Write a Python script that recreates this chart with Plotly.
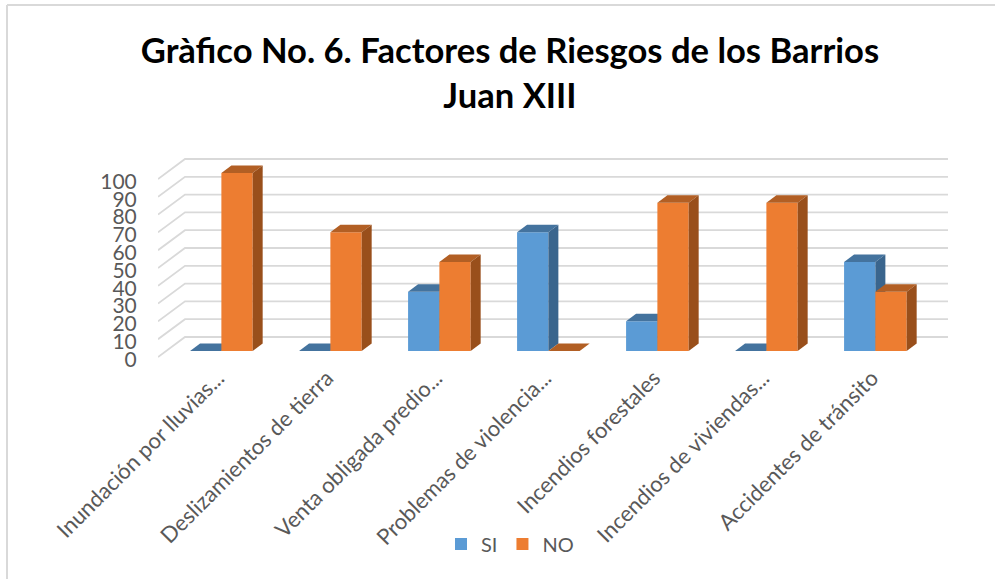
import plotly.graph_objects as go

categories = ["Inundación por lluvias...", "Deslizamientos de tierra", "Venta obligada predio...",
              "Problemas de violencia...", "Incendios forestales", "Incendios de viviendas...",
              "Accidentes de tránsito"]
si_values = [0, 0, 33.3, 66.7, 16.7, 0, 50]
no_values = [100, 66.7, 50, 0, 83.3, 83.3, 33.3]
y_ticks = [0, 10, 20, 30, 40, 50, 60, 70, 80, 90, 100]
title_text = "Gràfico No. 6. Factores de Riesgos de los Barrios<br>Juan XIII"

W, H = 995, 579
PLOT_L, PLOT_R = 158, 921
PLOT_T, PLOT_B = 179, 357
ROOM_R, ROOM_T, ROOM_B = 40, 40, 3   # spare plot room so depth faces and the 0 label stay in
FONT = "Lato"
TEXT = "#595959"
GRID = "#d9d9d9"
N = len(categories)
PX_X = (PLOT_R - PLOT_L) / N
PX_Y = (PLOT_B - PLOT_T) / 100
XR = [-0.5, N - 0.5 + ROOM_R / PX_X]
YR = [-ROOM_B / PX_Y, 100 + ROOM_T / PX_Y]
DX = 27 / PX_X
DY = 20 / PX_Y
BAR_W = 31.3 / PX_X
BAR_START = 0.22 - 0.5
D0, D1 = 0.3, 0.67


def proj(x, v, d):
    return x + d * DX, v + d * DY


fig = go.Figure()

# walls: left wall diagonals + back wall lines
gx, gy = [], []
for t in y_ticks:
    a = proj(-0.5, t, 0)
    b = proj(-0.5, t, 1)
    c = proj(N - 0.5, t, 1)
    gx += [a[0], b[0], c[0], None]
    gy += [a[1], b[1], c[1], None]
fig.add_trace(go.Scatter(x=gx, y=gy, mode="lines", line=dict(color=GRID, width=1.8),
                         hoverinfo="skip", showlegend=False, cliponaxis=False))


def add_series(name, vals, slot, front, top, side, ax):
    fig.add_trace(go.Bar(x=list(range(N)), y=vals, base=[D0 * DY] * N, width=[BAR_W] * N,
                         offset=[BAR_START + slot * BAR_W + D0 * DX] * N,
                         name=name, marker=dict(color=front, line=dict(width=0)),
                         cliponaxis=False, xaxis="x" + ax, yaxis="y" + ax))
    for i, v in enumerate(vals):
        x0 = i + BAR_START + slot * BAR_W
        x1 = x0 + BAR_W
        p = [proj(x0, v, D0), proj(x1, v, D0), proj(x1, v, D1), proj(x0, v, D1)]
        fig.add_trace(go.Scatter(x=[q[0] for q in p] + [p[0][0]], y=[q[1] for q in p] + [p[0][1]],
                                 mode="lines", fill="toself", fillcolor=top, line=dict(width=0, color=top),
                                 hoverinfo="skip", showlegend=False, cliponaxis=False,
                                 xaxis="x" + ax, yaxis="y" + ax))
        if v > 0:
            p = [proj(x1, 0, D0), proj(x1, v, D0), proj(x1, v, D1), proj(x1, 0, D1)]
            fig.add_trace(go.Scatter(x=[q[0] for q in p] + [p[0][0]], y=[q[1] for q in p] + [p[0][1]],
                                     mode="lines", fill="toself", fillcolor=side, line=dict(width=0, color=side),
                                     hoverinfo="skip", showlegend=False, cliponaxis=False,
                                     xaxis="x" + ax, yaxis="y" + ax))


add_series("SI", si_values, 0, "#5b9bd5", "#44739e", "#3a658d", "2")
add_series("NO", no_values, 1, "#ed7d31", "#b25f24", "#994f1b", "3")

dom_x = [PLOT_L / W, (PLOT_R + ROOM_R) / W]
dom_y = [1 - (PLOT_B + ROOM_B) / H, 1 - (PLOT_T - ROOM_T) / H]
hidden = dict(range=XR, domain=dom_x, visible=False, overlaying="x", fixedrange=True)
hiddeny = dict(range=YR, domain=dom_y, visible=False, overlaying="y", fixedrange=True)

fig.update_layout(
    width=W, height=H, margin=dict(l=0, r=0, t=0, b=0), autosize=False,
    paper_bgcolor="white", plot_bgcolor="rgba(0,0,0,0)",
    font=dict(family=FONT, color=TEXT),
    title=dict(text="<b>" + title_text.replace("<br>", "</b><br><b>") + "</b>",
               x=510 / W, xanchor="center", y=1 - 63 / H, yanchor="middle",
               font=dict(family=FONT, size=34.6, color="#000000")),
    xaxis=dict(range=XR, domain=dom_x, tickmode="array", tickvals=[i + 0.05 for i in range(N)],
               ticktext=categories, tickangle=-45, tickfont=dict(size=22, color=TEXT),
               ticks="", showgrid=False,
               showline=False, zeroline=False, fixedrange=True, automargin=False),
    yaxis=dict(range=YR, domain=dom_y, tickmode="array", tickvals=[t - 1.4 for t in y_ticks],
               ticktext=[str(t) for t in y_ticks],
               tickfont=dict(size=21, color=TEXT), ticks="outside", ticklen=16,
               tickcolor="rgba(0,0,0,0)", showgrid=False, showline=False, zeroline=False,
               fixedrange=True, automargin=False),
    xaxis2=hidden, yaxis2=hiddeny, xaxis3=hidden, yaxis3=hiddeny,
    barmode="overlay",
    legend=dict(orientation="h", x=510 / W, xanchor="center", y=1 - 544 / H, yanchor="middle",
                font=dict(size=20, color=TEXT), bgcolor="rgba(0,0,0,0)"),
    shapes=[
        dict(type="line", xref="paper", yref="paper", x0=7 / W, x1=7 / W, y0=0, y1=1 - 5 / H,
             line=dict(color="#d9d9d9", width=2)),
        dict(type="line", xref="paper", yref="paper", x0=7 / W, x1=1, y0=1 - 5 / H, y1=1 - 5 / H,
             line=dict(color="#d9d9d9", width=2)),
    ],
)
fig.write_html("out.html", post_script="document.body.style.margin='0';",
               config={"displayModeBar": False})
